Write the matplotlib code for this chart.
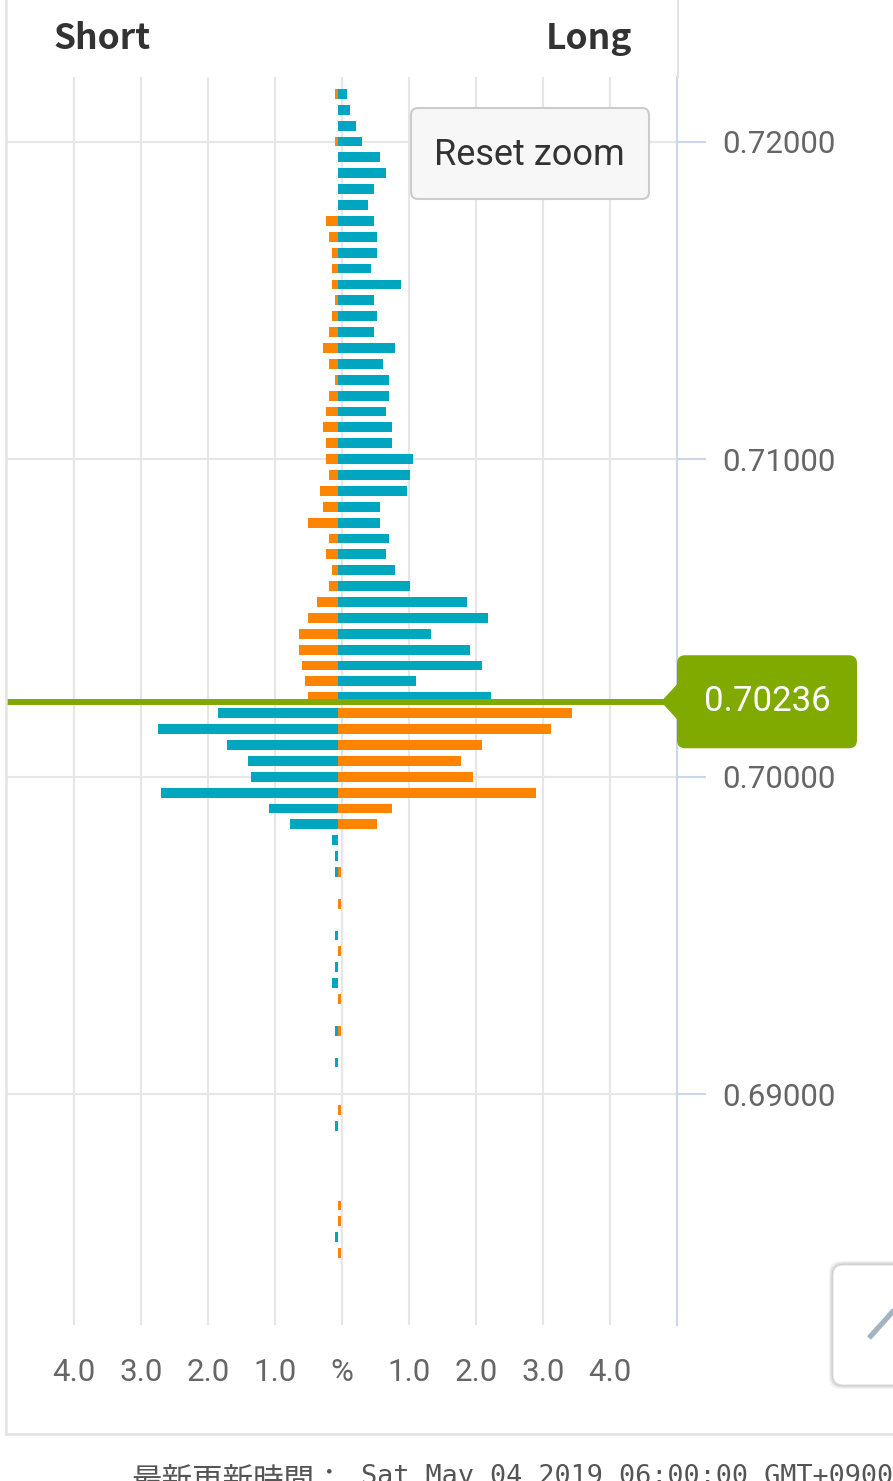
import matplotlib
matplotlib.use("Agg")
import matplotlib.pyplot as plt
from matplotlib.patches import FancyBboxPatch, Polygon
from matplotlib.lines import Line2D
from matplotlib.transforms import IdentityTransform

# ---------------- data ----------------
price_levels = [
    0.7215, 0.7210, 0.7205, 0.7200, 0.7195, 0.7190, 0.7185, 0.7180, 0.7175, 0.7170,
    0.7165, 0.7160, 0.7155, 0.7150, 0.7145, 0.7140, 0.7135, 0.7130, 0.7125, 0.7120,
    0.7115, 0.7110, 0.7105, 0.7100, 0.7095, 0.7090, 0.7085, 0.7080, 0.7075, 0.7070,
    0.7065, 0.7060, 0.7055, 0.7050, 0.7045, 0.7040, 0.7035, 0.7030, 0.7025, 0.7020,
    0.7015, 0.7010, 0.7005, 0.7000, 0.6995, 0.6990, 0.6985, 0.6980, 0.6975, 0.6970,
    0.6965, 0.6960, 0.6955, 0.6950, 0.6945, 0.6940, 0.6935, 0.6930, 0.6925, 0.6920,
    0.6915, 0.6910, 0.6905, 0.6900, 0.6895, 0.6890, 0.6885, 0.6880, 0.6875, 0.6870,
    0.6865, 0.6860, 0.6855, 0.6850,
]
short_pct = [
    0.045, 0, 0, 0.045, 0, 0, 0, 0, 0.18, 0.134,
    0.09, 0.09, 0.09, 0.045, 0.09, 0.134, 0.22, 0.134, 0.045, 0.134,
    0.18, 0.22, 0.18, 0.18, 0.134, 0.27, 0.22, 0.45, 0.134, 0.18,
    0.09, 0.134, 0.31, 0.45, 0.58, 0.58, 0.54, 0.49, 0.45, 1.79,
    2.69, 1.66, 1.34, 1.30, 2.64, 1.03, 0.72, 0.09, 0.045, 0.045,
    0, 0, 0, 0.045, 0, 0.045, 0.09, 0, 0, 0.045,
    0, 0.045, 0, 0, 0, 0.045, 0, 0, 0, 0,
    0, 0, 0.045, 0,
]
long_pct = [
    0.13, 0.175, 0.27, 0.36, 0.63, 0.72, 0.54, 0.45, 0.54, 0.58,
    0.58, 0.49, 0.94, 0.54, 0.58, 0.54, 0.85, 0.67, 0.76, 0.76,
    0.72, 0.81, 0.81, 1.12, 1.07, 1.03, 0.63, 0.63, 0.76, 0.72,
    0.85, 1.07, 1.93, 2.24, 1.39, 1.97, 2.15, 1.16, 2.28, 3.49,
    3.18, 2.15, 1.84, 2.01, 2.96, 0.81, 0.58, 0, 0, 0.045,
    0, 0.045, 0, 0, 0.045, 0, 0, 0.045, 0, 0.045,
    0, 0, 0, 0, 0.045, 0, 0, 0, 0, 0,
    0.045, 0.045, 0, 0.045,
]
current_price = 0.70236
price_ticks = [0.69, 0.70, 0.71, 0.72]
pct_ticks = [-4, -3, -2, -1, 0, 1, 2, 3, 4]
pct_labels = ["4.0", "3.0", "2.0", "1.0", "%", "1.0", "2.0", "3.0", "4.0"]
update_label = "最新更新時間："
update_time = "Sat May 04 2019 06:00:00 GMT+0900"

# ---------------- style ----------------
W, H = 893, 1481
ORANGE = "#ff8400"
TEAL = "#00a6bf"
GREEN = "#80aa00"
GRID = "#e6e6e6"
AXIS = "#ccd6eb"
LABEL = "#666666"
DARK = "#333333"
BAR_ORIGIN = -0.06
BAR_H = 0.00031
HEAD_FONT = ["Noto Sans CJK JP", "DejaVu Sans"]

fig = plt.figure(figsize=(W / 100, H / 100), dpi=100)
fig.patch.set_facecolor("white")
ax = fig.add_axes([7 / W, 1 - 1325 / H, 670 / W, (1325 - 77) / H])
ax.set_xlim(-5, 5)
ax.set_ylim(0.682736, 0.722031)

short_colors = [ORANGE if p > current_price else TEAL for p in price_levels]
long_colors = [TEAL if p > current_price else ORANGE for p in price_levels]
ax.barh(price_levels, [-v for v in short_pct], left=BAR_ORIGIN, height=BAR_H,
        color=short_colors, linewidth=0, zorder=3)
ax.barh(price_levels, long_pct, left=BAR_ORIGIN, height=BAR_H,
        color=long_colors, linewidth=0, zorder=3)

# grid & axes
ax.set_xticks(pct_ticks)
ax.set_xticklabels(pct_labels, family="Roboto")
ax.set_yticks(price_ticks)
ax.set_yticklabels([f"{v:.5f}" for v in price_ticks], family="Roboto")
ax.yaxis.tick_right()
ax.grid(True, color=GRID, linewidth=1.5, zorder=0)
ax.set_axisbelow(True)
for s in ["top", "left", "bottom"]:
    ax.spines[s].set_visible(False)
ax.spines["right"].set_color(AXIS)
ax.spines["right"].set_linewidth(1.5)
ax.tick_params(axis="y", length=21, width=1.5, color=AXIS, pad=11.5,
               labelsize=22.5, labelcolor=LABEL)
ax.tick_params(axis="x", length=0, pad=24, labelsize=22.5, labelcolor=LABEL)

# current price line
x_tip = 661
ax.axhline(current_price, xmin=0, xmax=(x_tip - 7) / 670, color=GREEN,
           linewidth=4.3, zorder=4)

fig.canvas.draw()
ident = IdentityTransform()
yc = ax.transData.transform((0, current_price))[1]


def D(x, y_img):
    return (x, H - y_img)


# price label box
box = FancyBboxPatch((677, yc - 46.5), 180, 93,
                     boxstyle="round,pad=0,rounding_size=8",
                     facecolor=GREEN, edgecolor="none", transform=ident)
fig.add_artist(box)
arrow = Polygon([(x_tip, yc), (678, yc + 18.5), (678, yc - 18.5)], closed=True,
                facecolor=GREEN, edgecolor="none", transform=ident)
fig.add_artist(arrow)
fig.text(767 / W, yc / H, f"{current_price:.5f}", color="white", family="Roboto",
         fontsize=25, ha="center", va="center")

# Reset zoom button
btn = FancyBboxPatch(D(411, 199), 238, 91,
                     boxstyle="round,pad=0,rounding_size=7",
                     facecolor="#f7f7f7", edgecolor="#cccccc", linewidth=1.5,
                     transform=ident)
fig.add_artist(btn)
fig.text(529 / W, 1 - 155 / H, "Reset zoom", color=DARK, family="Roboto",
         fontsize=26, ha="center", va="center")

# header labels
fig.text(54 / W, 1 - 49 / H, "Short", color=DARK, family=HEAD_FONT,
         fontweight="bold", fontsize=25.5, ha="left", va="baseline")
fig.text(632 / W, 1 - 49 / H, "Long", color=DARK, family=HEAD_FONT,
         fontweight="bold", fontsize=25.5, ha="right", va="baseline")

# card borders
fig.add_artist(Line2D([6, 6], [H - 0, H - 1434], color="#e3e3e3", linewidth=1.8,
                      transform=ident))
fig.add_artist(Line2D([6, W], [H - 1434, H - 1434], color="#e3e3e3", linewidth=1.8,
                      transform=ident))
fig.add_artist(Line2D([678, 678], [H - 0, H - 77], color="#e3e3e3", linewidth=1.5,
                      transform=ident))

# bottom-right widget
for off, a in [(4, 0.05), (2.5, 0.08), (1.2, 0.12)]:
    sh = FancyBboxPatch((833 - off, H - 1385 - off), 90 + 2 * off, 120 + 2 * off,
                        boxstyle="round,pad=0,rounding_size=12",
                        facecolor="black", alpha=a, edgecolor="none", transform=ident)
    fig.add_artist(sh)
wid = FancyBboxPatch((833, H - 1385), 90, 120,
                     boxstyle="round,pad=0,rounding_size=10",
                     facecolor="white", edgecolor="#e0e0e0", linewidth=0.8,
                     transform=ident)
fig.add_artist(wid)
fig.add_artist(Line2D([869, 896], [H - 1338, H - 1308], color="#a3b4c0",
                      linewidth=3.8, solid_capstyle="butt", transform=ident))

# update time (cut off by the lower edge, as in the source screenshot)
fig.text(132 / W, 1 - 1490 / H, update_label, color="#555555",
         family="Noto Sans CJK JP", fontsize=22, ha="left", va="baseline")
fig.text(361 / W, 1 - 1484 / H, update_time, color="#555555",
         family="DejaVu Sans Mono", fontsize=19.4, ha="left", va="baseline")

fig.savefig("out.png", dpi=100, facecolor="white")
